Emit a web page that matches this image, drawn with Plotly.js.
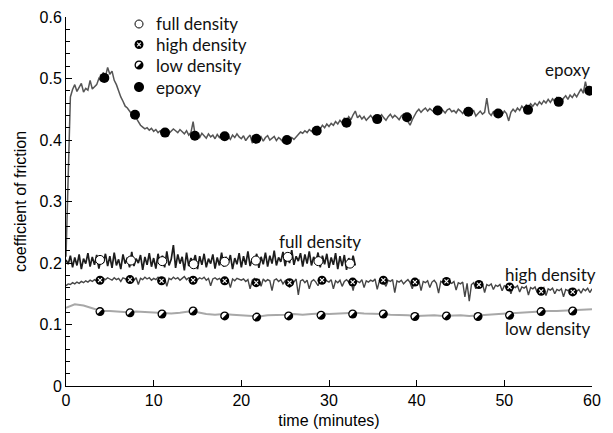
<!DOCTYPE html>
<html>
<head>
<meta charset="utf-8">
<script src="https://cdn.plot.ly/plotly-3.0.1.min.js"></script>
<style>html,body{margin:0;padding:0;background:#fff;}#chart{width:613px;height:433px;}</style>
</head>
<body>
<div id="chart"></div>
<script>
// ---- sampled traces (time step in minutes) ----
const epoxyStep = 0.25;
const epoxyCOF = [
0.21,0.36,0.47,0.482,0.49,0.479,0.485,0.492,0.478,0.484,0.481,0.497,0.483,0.486,0.49,0.5,0.496,0.51,0.503,0.518,
0.507,0.512,0.497,0.49,0.478,0.47,0.463,0.455,0.452,0.447,0.442,0.44,0.436,0.43,0.424,0.421,0.418,0.42,0.416,0.419,
0.414,0.417,0.412,0.415,0.41,0.413,0.416,0.411,0.414,0.418,0.415,0.412,0.417,0.413,0.41,0.415,0.408,0.412,0.43,0.406,
0.409,0.404,0.411,0.407,0.403,0.41,0.405,0.408,0.402,0.409,0.404,0.407,0.411,0.403,0.406,0.401,0.408,0.404,0.41,0.405,
0.402,0.407,0.399,0.404,0.408,0.395,0.403,0.406,0.401,0.405,0.398,0.404,0.407,0.4,0.403,0.406,0.399,0.404,0.401,0.397,
0.4,0.403,0.398,0.404,0.401,0.406,0.409,0.413,0.411,0.415,0.412,0.417,0.414,0.419,0.416,0.422,0.418,0.424,0.42,0.426,
0.422,0.427,0.424,0.43,0.426,0.432,0.428,0.436,0.431,0.438,0.433,0.441,0.447,0.436,0.44,0.434,0.438,0.432,0.437,0.44,
0.435,0.439,0.433,0.437,0.441,0.436,0.432,0.438,0.442,0.436,0.44,0.437,0.433,0.439,0.442,0.436,0.429,0.424,0.433,0.44,
0.446,0.45,0.445,0.449,0.452,0.447,0.451,0.448,0.445,0.45,0.446,0.452,0.448,0.444,0.449,0.451,0.446,0.448,0.444,0.45,
0.447,0.443,0.449,0.445,0.441,0.446,0.448,0.439,0.444,0.447,0.442,0.445,0.468,0.444,0.44,0.446,0.443,0.449,0.445,0.441,
0.447,0.443,0.431,0.445,0.45,0.446,0.452,0.448,0.455,0.451,0.457,0.453,0.459,0.455,0.46,0.456,0.462,0.458,0.464,0.46,
0.466,0.461,0.467,0.463,0.469,0.464,0.461,0.468,0.472,0.466,0.473,0.469,0.475,0.47,0.478,0.483,0.476,0.495,0.479,0.474,
0.476];

const fullStep = 0.25;
const fullCOF = [
0.205,0.198,0.212,0.193,0.209,0.196,0.214,0.19,0.207,0.199,0.216,0.194,0.21,0.197,0.213,0.191,0.208,0.2,0.215,0.195,
0.211,0.192,0.217,0.196,0.206,0.19,0.214,0.199,0.209,0.193,0.218,0.195,0.207,0.2,0.213,0.189,0.21,0.197,0.216,0.194,
0.208,0.191,0.215,0.198,0.212,0.193,0.219,0.196,0.206,0.229,0.192,0.214,0.199,0.21,0.188,0.217,0.195,0.208,0.201,0.213,
0.19,0.211,0.197,0.215,0.193,0.207,0.199,0.214,0.191,0.209,0.196,0.217,0.194,0.21,0.2,0.213,0.19,0.208,0.198,0.216,
0.193,0.211,0.197,0.219,0.195,0.207,0.201,0.215,0.192,0.21,0.198,0.217,0.194,0.212,0.199,0.22,0.196,0.209,0.202,0.218,
0.195,0.213,0.2,0.221,0.197,0.211,0.203,0.216,0.194,0.214,0.199,0.219,0.196,0.21,0.201,0.217,0.193,0.212,0.198,0.215,
0.192,0.209,0.197,0.216,0.19,0.211,0.195,0.213,0.189,0.208,0.194,0.212,0.196];

const highStep = 0.25;
const highCOF = [
0.163,0.166,0.165,0.168,0.166,0.169,0.167,0.17,0.168,0.171,0.169,0.172,0.17,0.173,0.171,0.174,0.172,0.175,0.173,0.176,
0.174,0.172,0.176,0.173,0.175,0.17,0.176,0.174,0.173,0.177,0.174,0.172,0.176,0.165,0.175,0.173,0.177,0.174,0.176,0.172,
0.175,0.173,0.177,0.174,0.171,0.176,0.162,0.175,0.173,0.177,0.174,0.176,0.172,0.175,0.178,0.173,0.176,0.174,0.166,0.175,
0.173,0.176,0.174,0.177,0.172,0.175,0.163,0.174,0.176,0.173,0.175,0.171,0.174,0.176,0.172,0.16,0.174,0.171,0.175,0.173,
0.172,0.174,0.17,0.173,0.158,0.172,0.175,0.171,0.173,0.162,0.174,0.17,0.173,0.171,0.155,0.172,0.174,0.17,0.173,0.166,
0.171,0.173,0.16,0.172,0.169,0.174,0.148,0.171,0.173,0.168,0.172,0.158,0.17,0.173,0.169,0.163,0.172,0.17,0.174,0.171,
0.169,0.173,0.158,0.171,0.168,0.172,0.162,0.17,0.173,0.169,0.171,0.155,0.172,0.17,0.168,0.173,0.16,0.171,0.169,0.172,
0.17,0.174,0.157,0.171,0.173,0.169,0.162,0.172,0.17,0.173,0.152,0.171,0.169,0.172,0.166,0.17,0.173,0.168,0.158,0.171,
0.169,0.172,0.155,0.17,0.168,0.171,0.16,0.169,0.172,0.167,0.151,0.17,0.168,0.171,0.163,0.169,0.167,0.17,0.156,0.168,
0.166,0.169,0.145,0.167,0.138,0.165,0.168,0.158,0.166,0.164,0.167,0.152,0.165,0.163,0.166,0.157,0.164,0.162,0.165,0.155,
0.163,0.161,0.164,0.15,0.162,0.16,0.163,0.153,0.161,0.159,0.162,0.148,0.16,0.158,0.161,0.152,0.159,0.157,0.16,0.147,
0.158,0.156,0.159,0.15,0.157,0.155,0.158,0.145,0.157,0.155,0.158,0.149,0.156,0.154,0.157,0.151,0.158,0.155,0.159,0.152,
0.158];

const lowStep = 1;
const lowCOF = [
0.127,0.133,0.131,0.126,0.122,0.122,0.121,0.12,0.121,0.12,0.12,0.119,0.118,0.119,0.121,0.12,0.117,0.116,0.117,0.116,
0.115,0.113,0.113,0.115,0.115,0.116,0.117,0.116,0.117,0.118,0.117,0.118,0.118,0.119,0.118,0.118,0.117,0.116,0.116,0.115,
0.114,0.115,0.115,0.114,0.115,0.115,0.114,0.115,0.116,0.116,0.117,0.118,0.119,0.12,0.121,0.122,0.122,0.123,0.123,0.124,
0.125];

// ---- marker points ----
const fullMkT = [3.88,7.41,10.98,14.56,18.1,21.66,25.3,28.8,32.4];
const fullMkV = [0.205,0.204,0.203,0.198,0.202,0.204,0.210,0.203,0.199];
const highMkT = [3.88,7.3,10.9,14.5,18.1,21.7,25.5,29.2,32.7,36.2,39.8,43.4,47.1,50.6,54.2,57.8];
const highMkV = [0.172,0.173,0.171,0.172,0.171,0.168,0.168,0.172,0.169,0.172,0.169,0.170,0.165,0.161,0.154,0.153];
const lowMkT = [3.88,7.3,10.95,14.5,18.1,21.75,25.4,29.1,32.7,36.2,39.8,43.4,47.0,50.6,54.2,57.8];
const lowMkV = [0.121,0.119,0.117,0.122,0.114,0.112,0.114,0.115,0.117,0.117,0.113,0.114,0.113,0.115,0.121,0.122];
const epoxyMkT = [4.37,7.87,11.3,14.7,18.1,21.7,25.2,28.6,32.0,35.5,38.9,42.4,45.9,49.3,52.7,56.2,59.7];
const epoxyMkV = [0.501,0.441,0.412,0.407,0.406,0.402,0.400,0.415,0.428,0.434,0.437,0.448,0.446,0.443,0.449,0.462,0.480];

// ---- labels ----
const seriesNames = ['full density','high density','low density','epoxy'];
const xTitle = 'time (minutes)';
const yTitle = 'coefficient of friction';

function times(arr, step){ return arr.map((_, i) => i * step); }

const W = 613, H = 433;
const M = {l:66, r:21, t:17, b:47};
const pw = W - M.l - M.r, ph = H - M.t - M.b;
const px2paperX = p => (p - M.l) / pw;
const px2paperY = p => (H - M.b - p) / ph;

const MS = 9;
const traces = [
  {x: times(lowCOF, lowStep), y: lowCOF, mode:'lines', line:{color:'#a8a8a8', width:2}},
  {x: times(highCOF, highStep), y: highCOF, mode:'lines', line:{color:'#454545', width:1.4}},
  {x: times(fullCOF, fullStep), y: fullCOF, mode:'lines', line:{color:'#1c1c1c', width:1.7}},
  {x: times(epoxyCOF, epoxyStep), y: epoxyCOF, mode:'lines', line:{color:'#555555', width:1.5}},
  {x: fullMkT, y: fullMkV, mode:'markers', marker:{symbol:'circle', size:MS, color:'#ffffff', line:{color:'#000', width:1}}},
  {x: highMkT, y: highMkV, mode:'markers', marker:{symbol:'circle', size:MS, color:'#000000'}},
  {x: highMkT, y: highMkV, mode:'markers', marker:{symbol:'x-thin', size:4, line:{color:'#ffffff', width:1.1}}},
  {x: lowMkT, y: lowMkV, mode:'markers', marker:{symbol:'circle', size:MS, color:'#000000'}},
  {x: epoxyMkT, y: epoxyMkV, mode:'markers', marker:{symbol:'circle', size:MS+1, color:'#000000'}}
];

// half-disc (upper-left) path, pixel units
const hr = 3.2;
let halfPath = '';
for (let k = 0; k <= 8; k++) {
  const a = (45 + k * 22.5) * Math.PI / 180;
  halfPath += (k === 0 ? 'M' : 'L') + (hr * Math.cos(a)).toFixed(2) + ',' + (hr * Math.sin(a)).toFixed(2);
}
halfPath += 'Z';
const xPath = 'M-1.8,-1.8L1.8,1.8M-1.8,1.8L1.8,-1.8';
const circPath = r => `M${r},0C${r},${(r*0.5523).toFixed(2)} ${(r*0.5523).toFixed(2)},${r} 0,${r}C${(-r*0.5523).toFixed(2)},${r} ${-r},${(r*0.5523).toFixed(2)} ${-r},0C${-r},${(-r*0.5523).toFixed(2)} ${(-r*0.5523).toFixed(2)},${-r} 0,${-r}C${(r*0.5523).toFixed(2)},${-r} ${r},${(-r*0.5523).toFixed(2)} ${r},0Z`;

const shapes = [];
// white halves on low density markers
lowMkT.forEach((t, i) => {
  shapes.push({type:'path', xref:'x', yref:'y', xsizemode:'pixel', ysizemode:'pixel',
    xanchor:t, yanchor:lowMkV[i], path:halfPath, fillcolor:'#ffffff', line:{width:0}, layer:'above'});
});

// legend
const legRowsY = [24, 44.5, 65, 87];
const legMkX = 139, legTxtX = 154;
function pixShape(px, py, path, fill, lineColor, lw){
  return {type:'path', xref:'paper', yref:'paper', xsizemode:'pixel', ysizemode:'pixel',
    xanchor:px2paperX(px), yanchor:px2paperY(py), path:path, fillcolor:fill,
    line:{color:lineColor, width:lw}, layer:'above'};
}
shapes.push(pixShape(legMkX, legRowsY[0], circPath(4), '#ffffff', '#000', 1));
shapes.push(pixShape(legMkX, legRowsY[1], circPath(4.5), '#000000', '#000', 0));
shapes.push(pixShape(legMkX, legRowsY[1], xPath, 'rgba(0,0,0,0)', '#ffffff', 1.1));
shapes.push(pixShape(legMkX, legRowsY[2], circPath(4.5), '#000000', '#000', 0));
shapes.push(pixShape(legMkX, legRowsY[2], halfPath, '#ffffff', '#fff', 0));
shapes.push(pixShape(legMkX, legRowsY[3], circPath(5), '#000000', '#000', 0));

const labFont = {family:'Lato, "Open Sans", sans-serif', size:17, color:'#111'};
const annotations = seriesNames.map((n, i) => ({
  xref:'paper', yref:'paper', x:px2paperX(legTxtX), y:px2paperY(legRowsY[i]),
  xanchor:'left', yanchor:'middle', text:n, showarrow:false, font:labFont
}));
// in-plot series labels (data coordinates)
annotations.push({x:29.0, y:0.235, text:seriesNames[0], showarrow:false, font:labFont});
annotations.push({x:55.3, y:0.1805, text:seriesNames[1], showarrow:false, font:labFont});
annotations.push({x:54.9, y:0.0927, text:seriesNames[2], showarrow:false, font:labFont});
annotations.push({x:57.15, y:0.514, text:seriesNames[3], showarrow:false, font:labFont});

const tickFont = {family:'"Liberation Sans", Arial, sans-serif', size:16, color:'#000'};
const layout = {
  width:W, height:H, margin:M, showlegend:false,
  paper_bgcolor:'#fff', plot_bgcolor:'#fff',
  xaxis:{range:[0,60], dtick:10, tick0:0, ticks:'inside', ticklen:6, tickwidth:1, tickcolor:'#000',
    showline:true, linecolor:'#000', linewidth:1, showgrid:false, zeroline:false, tickfont:tickFont,
    title:{text:xTitle, font:tickFont, standoff:6}},
  yaxis:{range:[0,0.6], dtick:0.1, tick0:0, ticks:'inside', ticklen:6, tickwidth:1, tickcolor:'#000',
    minor:{dtick:0.02, ticks:'inside', ticklen:4, tickcolor:'#000', tickwidth:1, showgrid:false},
    showline:true, linecolor:'#000', linewidth:1, showgrid:false, zeroline:false, tickfont:tickFont,
    title:{text:yTitle, font:tickFont, standoff:8}},
  shapes:shapes, annotations:annotations
};
Plotly.newPlot('chart', traces, layout, {displayModeBar:false, staticPlot:true});
</script>
</body>
</html>
